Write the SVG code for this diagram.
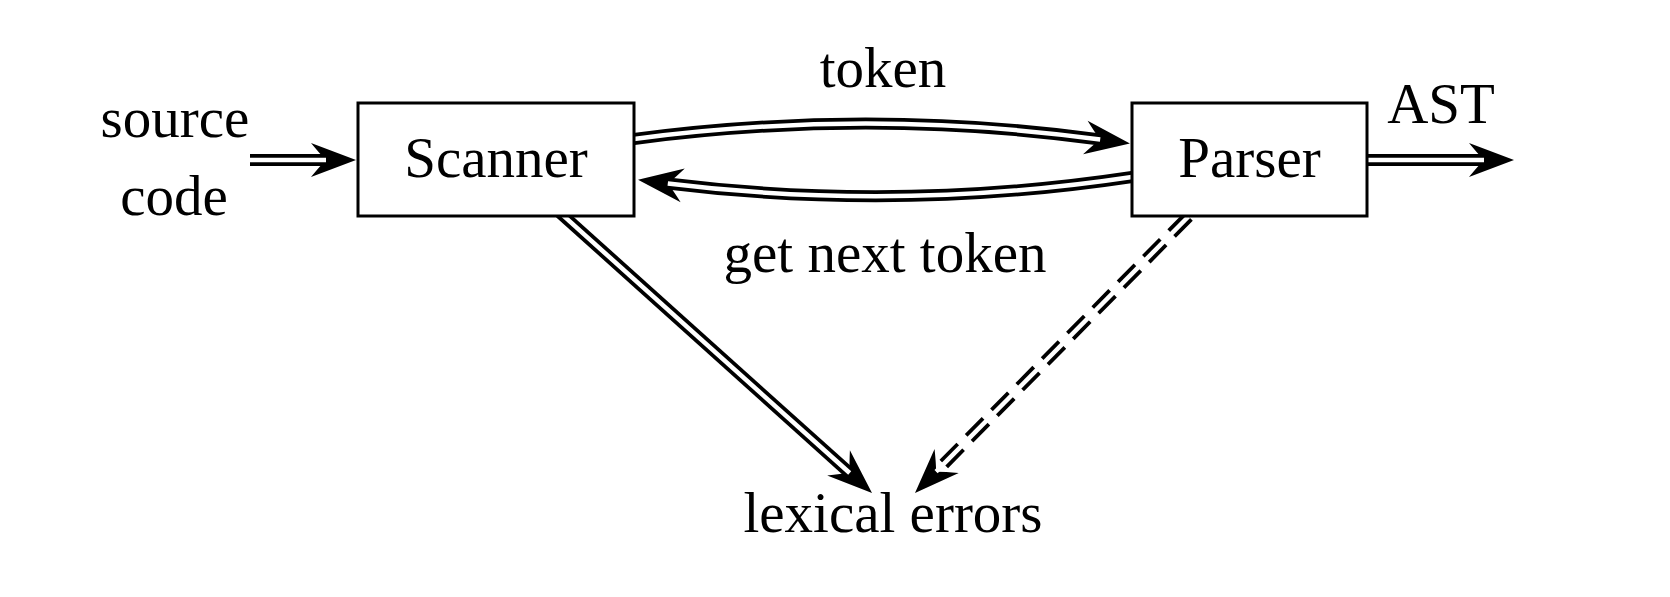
<svg xmlns="http://www.w3.org/2000/svg" width="1670" height="597" viewBox="0 0 1670 597">
  <style>
    .lbl { font-family: "Liberation Serif", "Times New Roman", serif; font-size: 57px; fill: #000; text-anchor: middle; }
    .box { fill: #fff; stroke: #000; stroke-width: 3; }
    .outer { fill: none; stroke: #000; stroke-width: 12; stroke-linecap: butt; }
    .inner { fill: none; stroke: #fff; stroke-width: 4.5; stroke-linecap: butt; }
    .dash { stroke-dasharray: 24 12; }
  </style>
  <defs>
    <marker id="head" markerUnits="userSpaceOnUse" viewBox="-50 -20 60 40" markerWidth="60" markerHeight="40" refX="-30" refY="0" orient="auto" overflow="visible">
      <path d="M0,0 L-45,-17 Q-36,-6 -30,0 Q-36,6 -45,17 Z" fill="#000"/>
    </marker>
  </defs>
  <rect width="1670" height="597" fill="#fff"/>

  <g id="connectors">
    <!-- source code -> Scanner -->
    <path class="outer" d="M250,160 L326,160" marker-end="url(#head)"/>
    <path class="inner" d="M250,160 L326,160"/>
    <!-- Parser -> AST -->
    <path class="outer" d="M1367,160 L1484,160" marker-end="url(#head)"/>
    <path class="inner" d="M1367,160 L1484,160"/>
    <!-- token: Scanner -> Parser -->
    <path class="outer" d="M634,139 Q868,108 1100.2,139.5" marker-end="url(#head)"/>
    <path class="inner" d="M634,139 Q868,108 1100.2,139.5"/>
    <!-- get next token: Parser -> Scanner -->
    <path class="outer" d="M1132,177 Q899,212 667.8,183.5" marker-end="url(#head)"/>
    <path class="inner" d="M1132,177 Q899,212 667.8,183.5"/>
    <!-- Scanner -> lexical errors -->
    <path class="outer" d="M560,212.7 L849.7,473" marker-end="url(#head)"/>
    <path class="inner" d="M560,212.7 L849.7,473"/>
    <!-- Parser -> lexical errors (dashed) -->
    <path class="outer dash" d="M1188.5,216.5 L936.1,471.7" marker-end="url(#head)"/>
    <path class="inner" d="M1188.5,216.5 L936.1,471.7"/>
  </g>

  <g id="scanner">
    <rect class="box" x="358" y="103" width="276" height="113"/>
    <text class="lbl" x="496" y="177">Scanner</text>
  </g>
  <g id="parser">
    <rect class="box" x="1132" y="103" width="235" height="113"/>
    <text class="lbl" x="1249.5" y="177">Parser</text>
  </g>
  <g id="source-code">
    <text class="lbl" x="175" y="137">source</text>
    <text class="lbl" x="174" y="215">code</text>
  </g>
  <g id="ast">
    <text class="lbl" x="1441" y="123">AST</text>
  </g>
  <g id="lexical-errors">
    <text class="lbl" x="893" y="532">lexical errors</text>
  </g>
  <g id="labels">
    <text class="lbl" x="883" y="87">token</text>
    <text class="lbl" x="885" y="272">get next token</text>
  </g>
</svg>
